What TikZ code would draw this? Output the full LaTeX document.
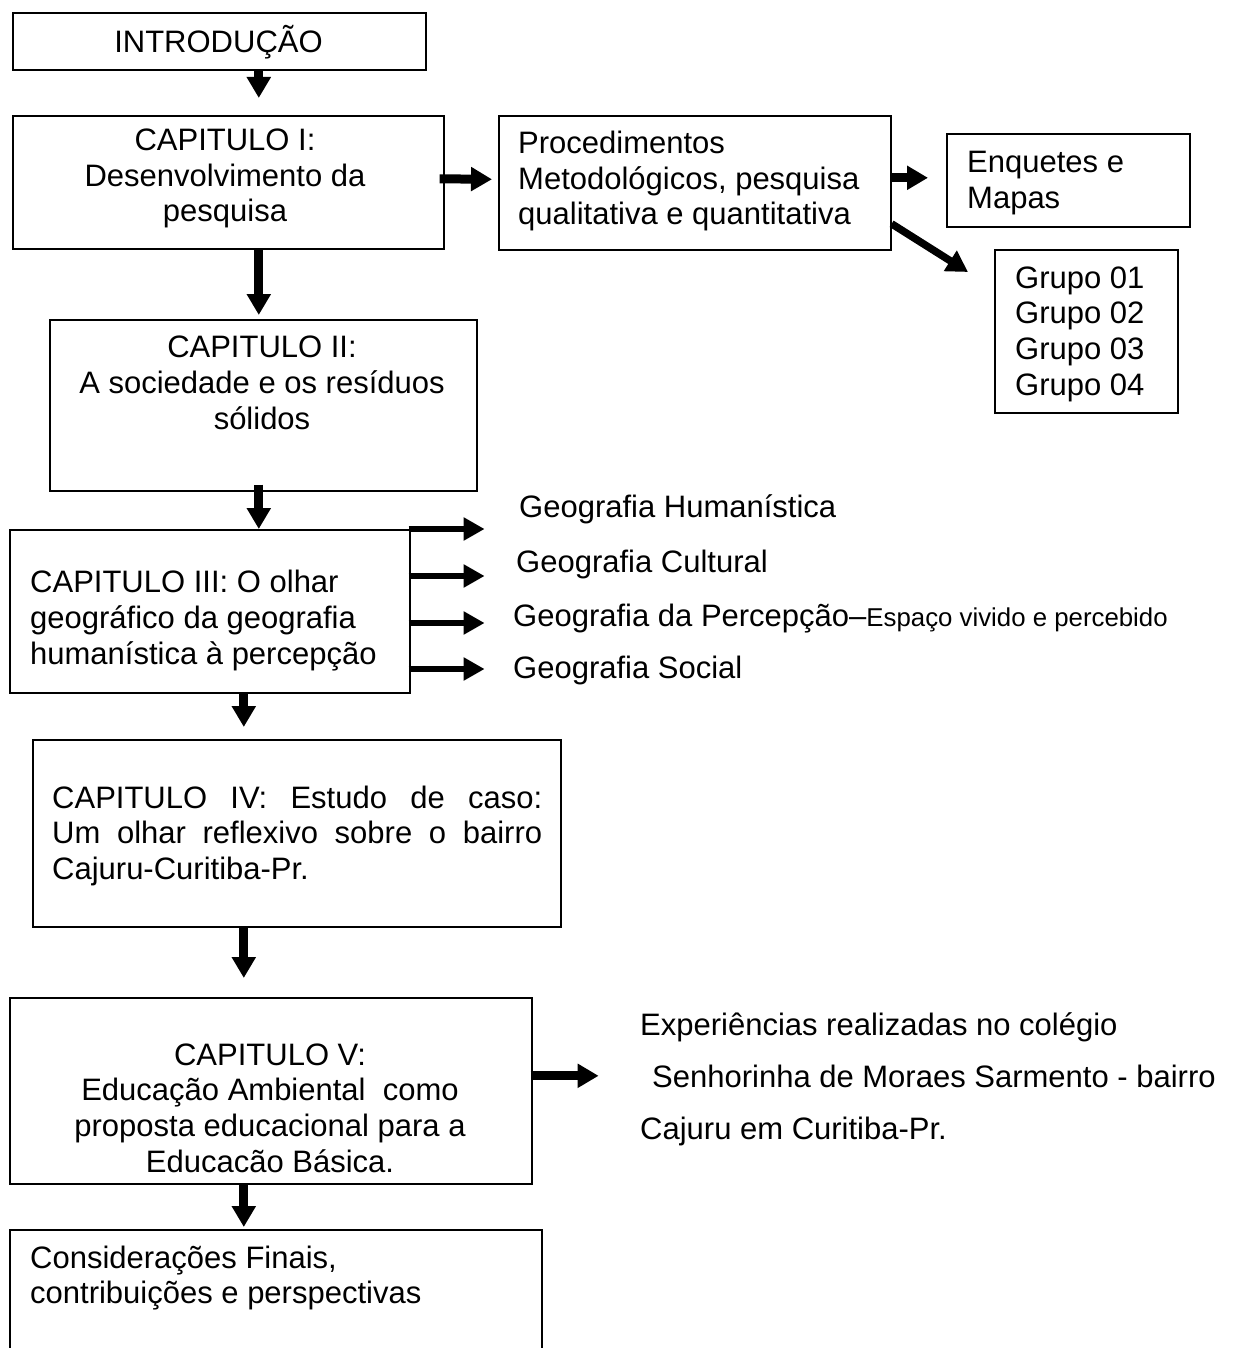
\documentclass[tikz,border=0pt]{standalone}
\usepackage{fontspec}
\setmainfont{Liberation Sans}
\usetikzlibrary{arrows.meta}
\begin{document}
\begin{tikzpicture}[x=1pt,y=-1pt,
  box/.style={draw, line width=1.6pt, rectangle, inner sep=0pt, anchor=north west},
  txt/.style={inner sep=0pt, font=\fontsize{31}{35.6}\selectfont},
  blk/.style={line width=9pt, -{Triangle[width=23pt,length=21pt]}},
  sidearrow/.style={line width=6.5pt, -{Triangle[width=22pt,length=21pt]}}
]
\useasboundingbox (0,0) rectangle (1233,1348);
\clip (0,0) rectangle (1233,1348);
\fill[white] (0,0) rectangle (1233,1348);

% boxes
\node[box, minimum width=413pt, minimum height=57pt]  (intro)  at (12,12) {};
\node[box, minimum width=431pt, minimum height=133pt] (capI)   at (12,115) {};
\node[box, minimum width=392pt, minimum height=134pt] (proc)   at (498,115) {};
\node[box, minimum width=243pt, minimum height=93pt]  (enq)    at (946,133) {};
\node[box, minimum width=183pt, minimum height=163pt] (grupo)  at (994,249) {};
\node[box, minimum width=427pt, minimum height=171pt] (capII)  at (49,319) {};
\node[box, minimum width=400pt, minimum height=163pt] (capIII) at (9,529) {};
\node[box, minimum width=528pt, minimum height=187pt] (capIV)  at (32,739) {};
\node[box, minimum width=522pt, minimum height=186pt] (capV)   at (9,997) {};
\node[box, minimum width=532pt, minimum height=160pt] (consid) at (9,1229) {};

% texts (multi-line nodes: base anchor = last line)
\node[txt, anchor=base] (introT) at (218.5,53) {INTRODUÇÃO};
\node[txt, anchor=base, align=center] (capIT) at (225,222) {CAPITULO I:\\Desenvolvimento da\\pesquisa};
\node[txt, anchor=base west, align=left] (procT) at (518,225) {Procedimentos\\Metodológicos, pesquisa\\qualitativa e quantitativa};
\node[txt, anchor=base west, align=left] (enqT) at (967,208.6) {Enquetes e\\Mapas};
\node[txt, anchor=base west, align=left] (grupoT) at (1015,395) {Grupo 01\\Grupo 02\\Grupo 03\\Grupo 04};
\node[txt, anchor=base, align=center] (capIIT) at (262,429) {CAPITULO II:\\A sociedade e os resíduos\\sólidos};
\node[txt, anchor=base west, align=left] (capIIIT) at (30,664) {CAPITULO III: O olhar\\geográfico da geografia\\humanística à percepção};
\node[txt, anchor=base west, text width=490pt, align=justify] (capIVT) at (52,808)
  {\hyphenpenalty=10000 CAPITULO IV: Estudo de caso:\linebreak Um olhar reflexivo sobre o bairro\linebreak Cajuru-Curitiba-Pr.};
\node[txt, anchor=base, align=center] (capVT) at (270,1172) {CAPITULO V:\\Educação Ambiental\ \ como\\proposta educacional para a\\Educacão Básica.};
\node[txt, anchor=base west, align=left] (considT) at (30,1303.6) {Considerações Finais,\\contribuições e perspectivas};

\node[txt, anchor=base west] (g1) at (519,517) {Geografia Humanística};
\node[txt, anchor=base west] (g2) at (516,572) {Geografia Cultural};
\node[txt, anchor=base west] (g3) at (513,626) {Geografia da Percepção–{\fontsize{25.8}{30}\selectfont Espaço vivido e percebido}};
\node[txt, anchor=base west] (g4) at (513,678) {Geografia Social};

\node[txt, anchor=base west, align=left, font=\fontsize{31}{52}\selectfont] (expT) at (640,1139)
  {Experiências realizadas no colégio\\\hspace*{12pt}Senhorinha de Moraes Sarmento - bairro\\Cajuru em Curitiba-Pr.};

% connectors
\draw[blk] ([xshift=39.5pt]intro.south) -- ([xshift=30.5pt,yshift=17pt]capI.north);
\draw[blk] ([xshift=-5pt,yshift=3.5pt]capI.east) -- ([xshift=-6pt,yshift=3.5pt]proc.west);
\draw[blk] ([yshift=5pt]proc.east) -- ([xshift=-18pt,yshift=2.5pt]enq.west);
\draw[line width=7.5pt, -{Triangle[width=23pt,length=21pt]}] ([yshift=-41pt]proc.east) -- ([xshift=-26pt,yshift=-23pt]grupo.north west);
\draw[blk] ([xshift=30.5pt]capI.south) -- ([xshift=-4.5pt,yshift=4pt]capII.north);
\draw[blk] ([xshift=-4.5pt,yshift=7pt]capII.south) -- ([xshift=49pt]capIII.north);
\draw[sidearrow] ([xshift=-2pt]capIII.north east) -- ([xshift=74pt]capIII.north east);
\draw[sidearrow] ([xshift=-2pt,yshift=-47pt]capIII.north east) -- ([xshift=74pt,yshift=-47pt]capIII.north east);
\draw[sidearrow] ([xshift=-2pt,yshift=-94pt]capIII.north east) -- ([xshift=74pt,yshift=-94pt]capIII.north east);
\draw[sidearrow] ([xshift=-2pt,yshift=-140pt]capIII.north east) -- ([xshift=74pt,yshift=-140pt]capIII.north east);
\draw[blk] ([xshift=34pt]capIII.south) -- ([xshift=-53pt,yshift=12pt]capIV.north);
\draw[blk] ([xshift=-53pt]capIV.south) -- ([xshift=-27pt,yshift=19pt]capV.north);
\draw[blk] ([xshift=-2pt,yshift=15pt]capV.east) -- ([xshift=66pt,yshift=15pt]capV.east);
\draw[blk] ([xshift=-27pt]capV.south) -- ([xshift=-32pt,yshift=2pt]consid.north);
\end{tikzpicture}
\end{document}
